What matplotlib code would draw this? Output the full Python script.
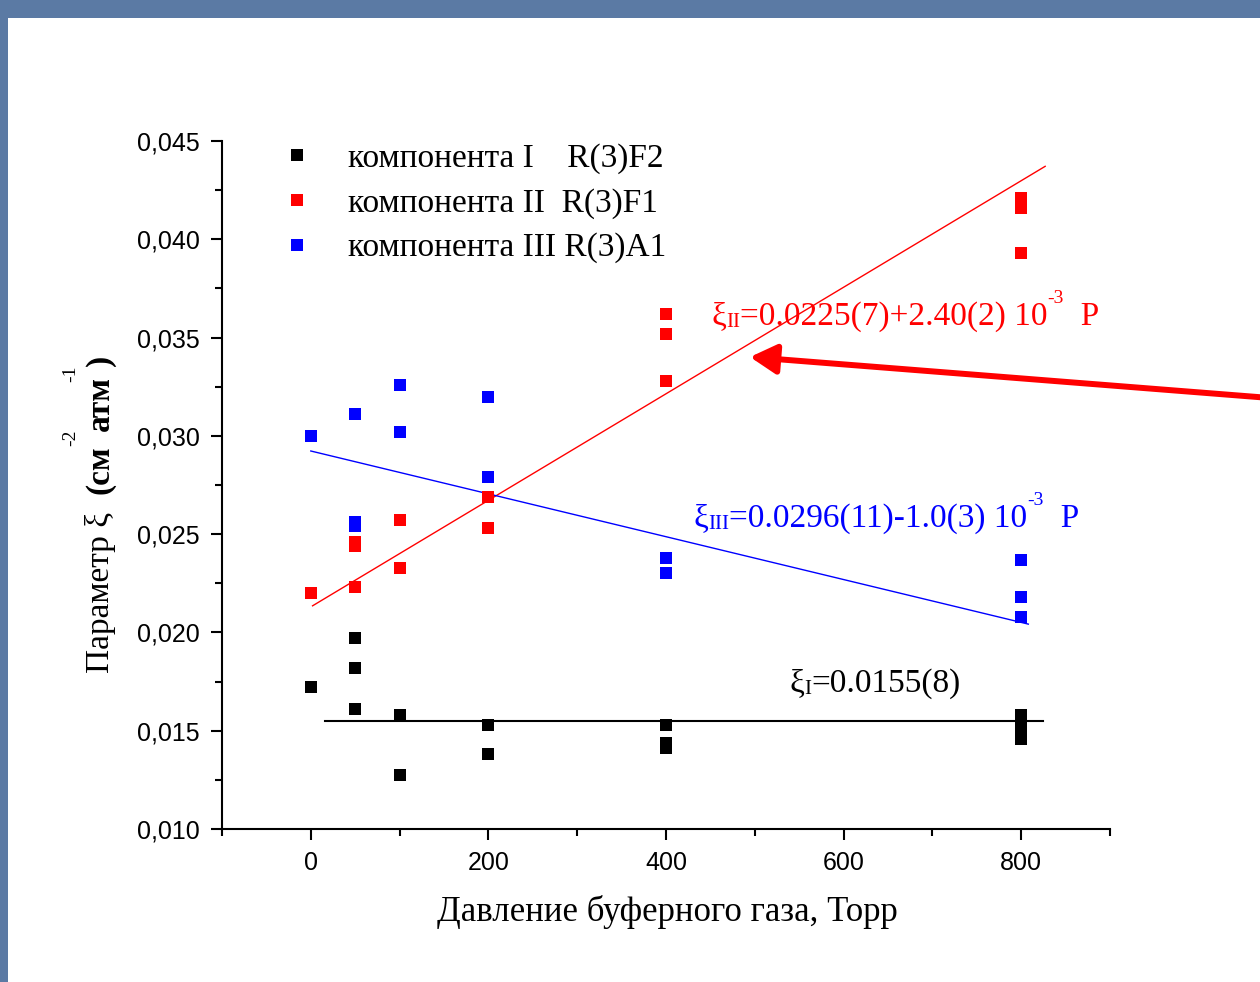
import numpy as np
import matplotlib
matplotlib.use('Agg')
import matplotlib.pyplot as plt
from matplotlib.ticker import MultipleLocator, FuncFormatter
from matplotlib.patches import Rectangle

# Давление буферного газа (Торр) и параметр ξ для трёх компонент
p_I = [0, 50, 50, 50, 100, 100, 200, 200, 400, 400, 400, 800, 800, 800, 800]
xi_I = [0.0172, 0.0197, 0.0182, 0.0161, 0.0158, 0.01275, 0.0153, 0.0138,
        0.0153, 0.0144, 0.0141, 0.0158, 0.01545, 0.0150, 0.0146]

p_II = [0, 50, 50, 50, 100, 100, 200, 200, 400, 400, 400, 800, 800, 800]
xi_II = [0.0220, 0.0223, 0.0246, 0.0244, 0.0257, 0.0233, 0.0253, 0.0269,
         0.0362, 0.0352, 0.0328, 0.0421, 0.0416, 0.0393]

p_III = [0, 50, 50, 50, 100, 100, 200, 200, 400, 400, 800, 800, 800]
xi_III = [0.0300, 0.0311, 0.0256, 0.0254, 0.0326, 0.0302, 0.0320, 0.0279,
          0.0238, 0.0230, 0.0237, 0.0218, 0.0208]

# прямые: (P от, P до, свободный член, наклон на Торр)
fit_I = (16, 825, 0.0155, 0.0)
fit_II = (2, 827, 0.0213, 2.71e-5)
fit_III = (0, 808, 0.02923, -1.09e-5)

labels = ['компонента I    R(3)F2', 'компонента II  R(3)F1', 'компонента III R(3)A1']
colors = ['black', '#ff0000', '#0000ff']

SERIF = ['Liberation Serif', 'DejaVu Serif']
plt.rcParams['font.family'] = ['Liberation Sans Narrow', 'Liberation Sans', 'DejaVu Sans']

W, H = 1260, 982
fig = plt.figure(figsize=(W / 100, H / 100), dpi=100, facecolor='#5b7aa4')
fig.add_artist(Rectangle((8 / W, 0), 1, 1 - 18 / H, transform=fig.transFigure,
                         facecolor='white', edgecolor='none', zorder=0))


def px(x, y):
    return x / W, 1 - y / H


ax = fig.add_axes([222 / W, 1 - 829 / H, (1110 - 222) / W, (829 - 141) / H])
ax.set_xlim(-100, 900)
ax.set_ylim(0.010, 0.045)
for s in ['top', 'right']:
    ax.spines[s].set_visible(False)
for s in ['left', 'bottom']:
    ax.spines[s].set_linewidth(1.5)

ax.xaxis.set_major_locator(MultipleLocator(200))
ax.xaxis.set_minor_locator(MultipleLocator(100))
ax.yaxis.set_major_locator(MultipleLocator(0.005))
ax.yaxis.set_minor_locator(MultipleLocator(0.0025))
ax.yaxis.set_major_formatter(FuncFormatter(lambda v, _: f'{v:.3f}'.replace('.', ',')))
ax.tick_params(which='major', length=8, width=1.5, direction='out', labelsize=18, pad=8)
ax.tick_params(which='minor', length=5, width=1.5, direction='out')

# точки
for p, xi, c, lab in zip([p_I, p_II, p_III], [xi_I, xi_II, xi_III], colors, labels):
    ax.plot(p, xi, 's', color=c, ms=9, mew=0, label=lab, zorder=3)

# линейные аппроксимации
for (p0, p1, b, k), c, lw in zip([fit_I, fit_II, fit_III], colors, [1.5, 1.0, 1.0]):
    xs = np.array([p0, p1])
    ax.plot(xs, b + k * xs, color=c, lw=lw, zorder=2)

leg = ax.legend(loc='upper left', bbox_to_anchor=(0.0655, 0.997), frameon=False,
                prop={'family': SERIF, 'size': 24}, handlelength=1.0,
                handletextpad=1.05, labelspacing=0.42, borderpad=0, borderaxespad=0)


def formula(x, y, pieces, color):
    # pieces: (текст, размер, подъём в пунктах)
    first = ax.text(x, y, pieces[0][0], fontsize=pieces[0][1], color=color,
                    family=SERIF, va='baseline', ha='left')
    prev = first
    for s, size, rise in pieces[1:]:
        prev = ax.annotate(s, xy=(1, 0), xycoords=(prev, first),
                           xytext=(0, rise), textcoords='offset points',
                           fontsize=size, color=color, family=SERIF,
                           va='bottom', ha='left')


formula(451, 0.03564, [('ξ', 24, 0), ('II', 15, 0), ('=0.0225(7)+2.40(2) 10', 24, 0),
                       ('-3', 14, 18), ('  P', 24, 0)], colors[1])
formula(431, 0.02536, [('ξ', 24, 0), ('III', 15, 0), ('=0.0296(11)-1.0(3) 10', 24, 0),
                       ('-3', 14, 18), ('  P', 24, 0)], colors[2])
formula(539, 0.01697, [('ξ', 24, 0), ('I', 15, 0), ('=0.0155(8)', 24, 0)], colors[0])

# подписи осей
fig.text(*px(667, 912), 'Давление буферного газа, Торр', family=SERIF, fontsize=25,
         ha='center', va='center')
fig.text(*px(100, 673), 'Параметр ξ', family=SERIF, fontsize=24, rotation=90,
         ha='center', va='bottom')
fig.text(*px(100, 494), '(см', family=SERIF, fontsize=24, fontweight='bold',
         rotation=90, ha='center', va='bottom')
fig.text(*px(100, 431), 'атм', family=SERIF, fontsize=24, fontweight='bold',
         rotation=90, ha='center', va='bottom')
fig.text(*px(100, 366), ')', family=SERIF, fontsize=24, fontweight='bold',
         rotation=90, ha='center', va='bottom')
fig.text(*px(71, 438), '-2', family=SERIF, fontsize=14, rotation=90, ha='center', va='center')
fig.text(*px(71, 374), '-1', family=SERIF, fontsize=14, rotation=90, ha='center', va='center')

# красная стрелка к прямой
ax.annotate('', xy=(750, H - 357), xycoords='figure pixels',
            xytext=(1270, H - 398), textcoords='figure pixels',
            arrowprops=dict(arrowstyle='-|>,head_length=0.8,head_width=0.45',
                            color='#ff0000', lw=4.3, mutation_scale=20,
                            shrinkA=0, shrinkB=0),
            annotation_clip=False)

fig.savefig('out.png', dpi=100, facecolor=fig.get_facecolor())
